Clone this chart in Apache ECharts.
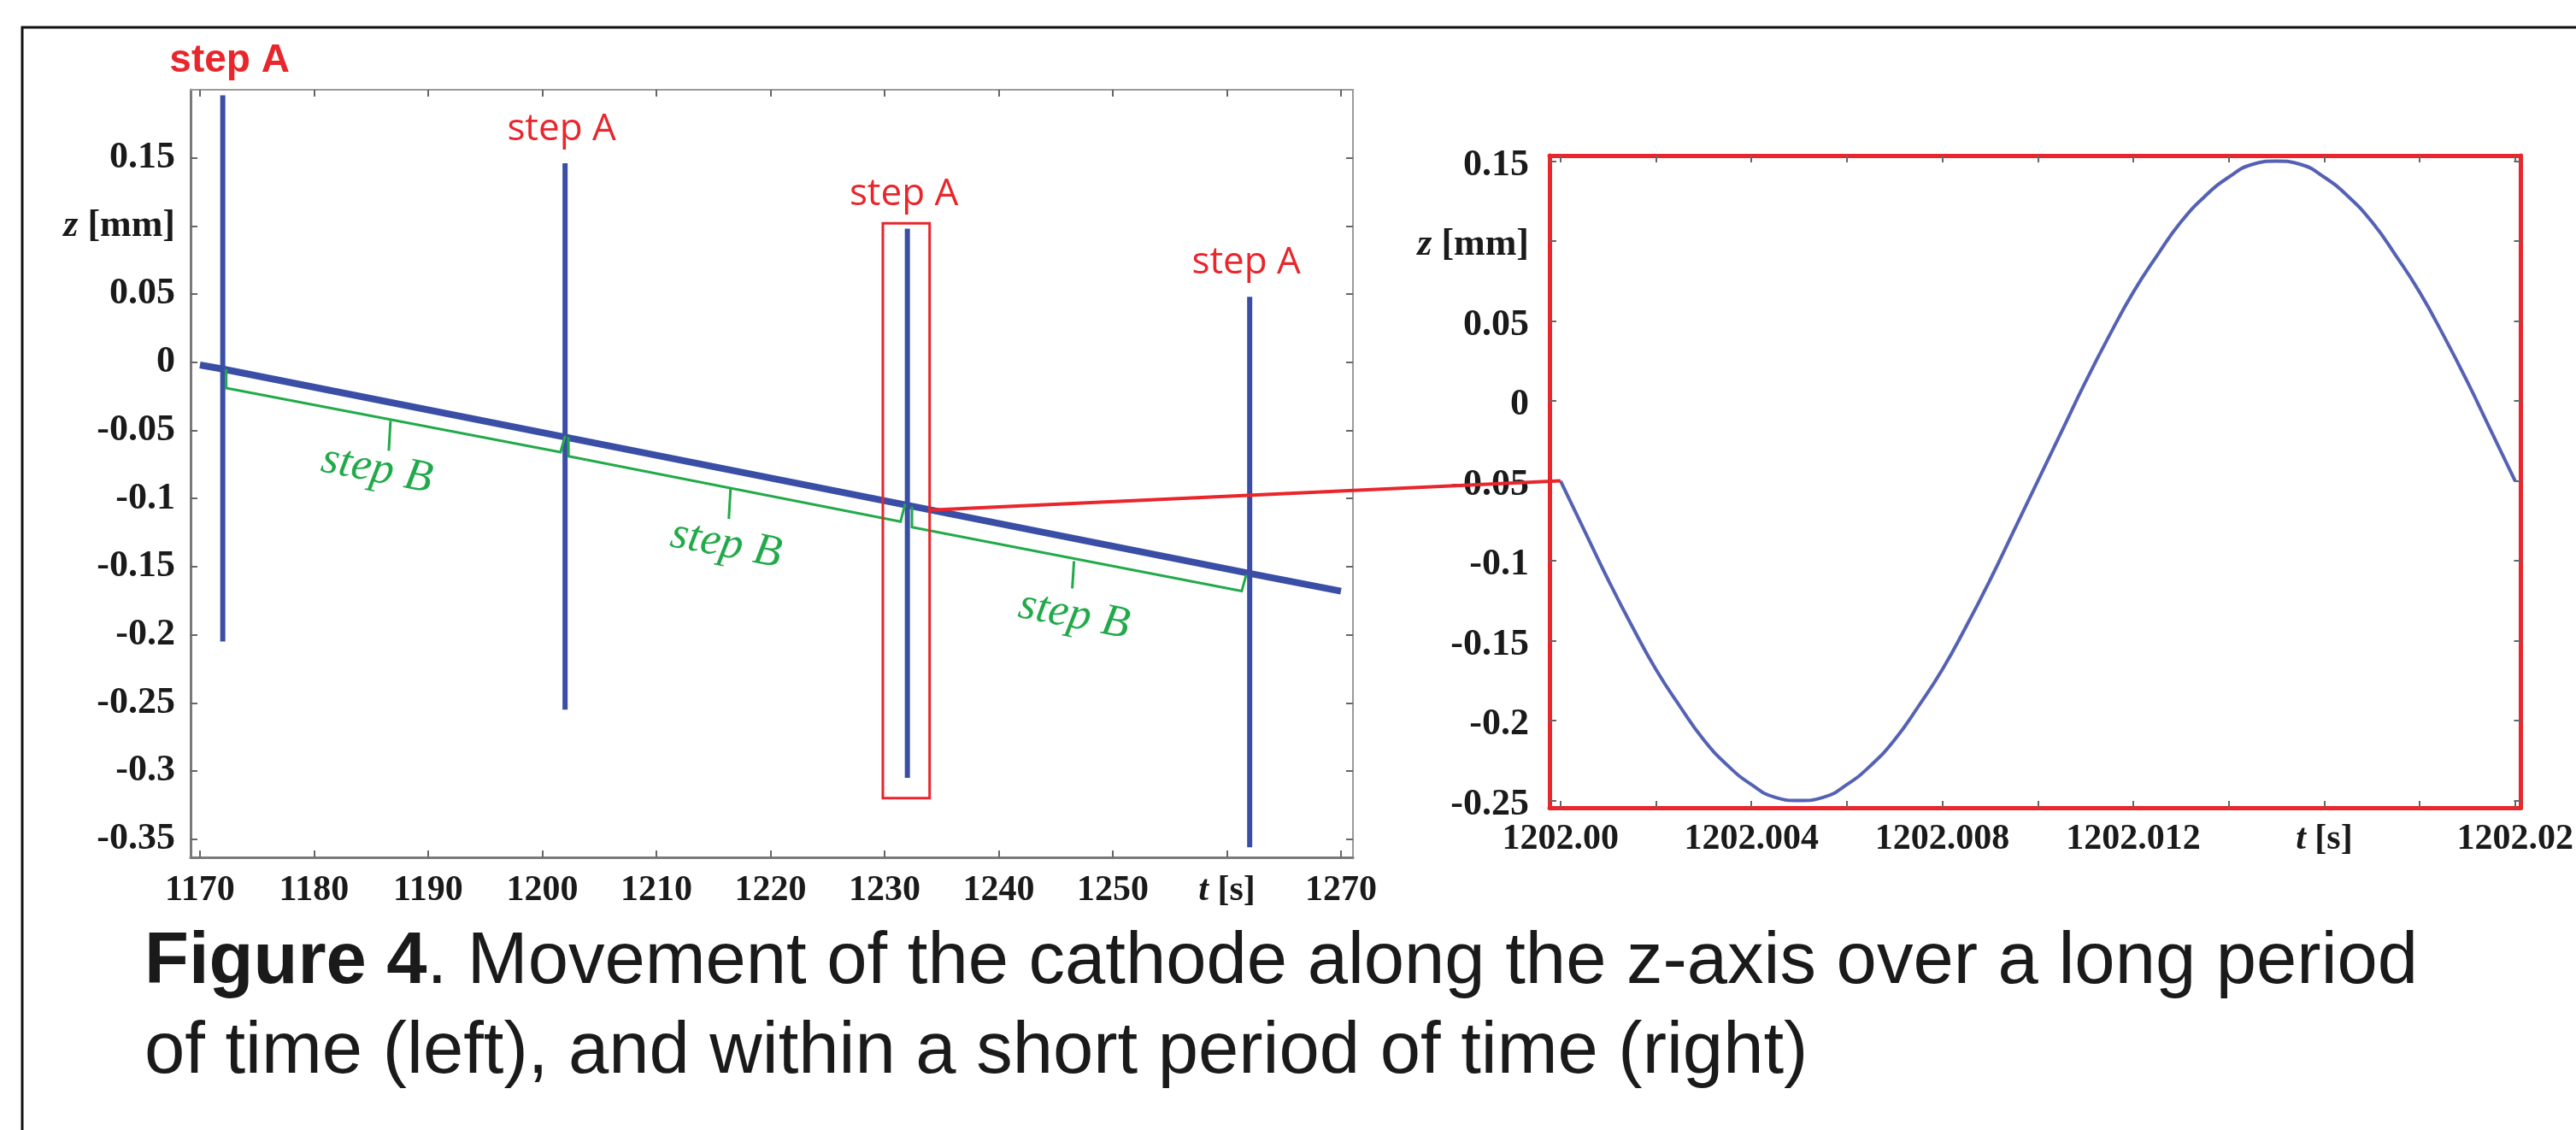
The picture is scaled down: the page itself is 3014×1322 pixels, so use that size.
<!DOCTYPE html>
<html><head><meta charset="utf-8">
<script src="https://cdn.jsdelivr.net/npm/echarts@6/dist/echarts.min.js"></script>
<style>html,body{margin:0;padding:0;background:#fff;}#c{width:3014px;height:1322px;}</style>
</head><body><div id="c"></div>
<script>
// ---------- Left panel: long period ----------
const longXTicks = [1170,1180,1190,1200,1210,1220,1230,1240,1250,1260,1270];
const longXLabels = ['1170','1180','1190','1200','1210','1220','1230','1240','1250','{i|t} [s]','1270'];
const longYTicks = [0.15,0.1,0.05,0,-0.05,-0.1,-0.15,-0.2,-0.25,-0.3,-0.35];
const longYLabels = ['0.15','{i|z} [mm]','0.05','0','-0.05','-0.1','-0.15','-0.2','-0.25','-0.3','-0.35'];
const trendT = [1170,1172,1202,1232,1262,1270];
const trendZ = [-0.002,-0.005,-0.055,-0.105,-0.155,-0.168];
const stepAT = [1172,1202,1232,1262];
const stepAHigh = [0.196,0.146,0.098,0.048];
const stepALow = [-0.205,-0.255,-0.305,-0.356];
const stepALabels = ['step A','step A','step A','step A'];
const stepBStartT = [1172.3,1202.3,1232.4];
const stepBStartTop = [-0.005,-0.055,-0.106];
const stepBStartLow = [-0.019,-0.069,-0.121];
const stepBEndT = [1201.6,1231.4,1261.3];
const stepBEndLow = [-0.066,-0.117,-0.168];
const stepBEndTop = [-0.054,-0.104,-0.156];
const stepBTickT = [1186.7,1216.5,1246.6];
const stepBTickTop = [-0.043,-0.093,-0.146];
const stepBTickLow = [-0.065,-0.115,-0.166];
const stepBLabelT = [1185.5,1216.1,1246.6];
const stepBLabelZ = [-0.079,-0.134,-0.186];
const stepBLabels = ['step B','step B','step B'];
const zoomBoxT = [1229.85,1233.95];
const zoomBoxZ = [-0.32,0.102];
const zoomLinkFrom = [1234.0,-0.1085];
// ---------- Right panel: short period ----------
const shortXTicks = [1202,1202.002,1202.004,1202.006,1202.008,1202.01,1202.012,1202.014,1202.016,1202.018,1202.02];
const shortXLabelValues = [1202,1202.004,1202.008,1202.012,1202.016,1202.02];
const shortXLabels = ['1202.00','1202.004','1202.008','1202.012','{i|t} [s]','1202.02'];
const shortYTicks = [0.15,0.1,0.05,0,-0.05,-0.1,-0.15,-0.2,-0.25];
const shortYLabels = ['0.15','{i|z} [mm]','0.05','0','-0.05','-0.1','-0.15','-0.2','-0.25'];
const shortT = [1202.0000,1202.0005,1202.0010,1202.0015,1202.0020,1202.0025,1202.0030,1202.0035,1202.0040,1202.0045,
                1202.0050,1202.0055,1202.0060,1202.0065,1202.0070,1202.0075,1202.0080,1202.0085,1202.0090,1202.0095,
                1202.0100,1202.0105,1202.0110,1202.0115,1202.0120,1202.0125,1202.0130,1202.0135,1202.0140,1202.0145,
                1202.0150,1202.0155,1202.0160,1202.0165,1202.0170,1202.0175,1202.0180,1202.0185,1202.0190,1202.0195,1202.0200];
const shortZ = [-0.050,-0.081,-0.112,-0.141,-0.168,-0.191,-0.212,-0.228,-0.240,-0.248,
                -0.250,-0.248,-0.240,-0.228,-0.212,-0.191,-0.168,-0.141,-0.112,-0.081,
                -0.050,-0.019,0.012,0.041,0.068,0.091,0.112,0.128,0.140,0.148,
                0.150,0.148,0.140,0.128,0.112,0.091,0.068,0.041,0.012,-0.019,-0.050];
const zoomLinkTo = [1202.0,-0.05];

const BLUE = '#3a4ea6', CURVE = '#5562b4', RED = '#e8262b', GREEN = '#22aa4a', INK = '#1a1a1a';
const SERIF = '"Liberation Serif","Times New Roman",serif';

function lookup(vals, labels){
  return function(v){
    for (let i=0;i<vals.length;i++) if (Math.abs(vals[i]-v) < 1e-7) return labels[i];
    return '';
  };
}
function labelBase(size){
  return {fontFamily: SERIF, fontWeight: 'bold', fontSize: size, color: INK,
    rich: {i: {fontFamily: SERIF, fontStyle: 'italic', fontWeight: 'bold', fontSize: size, color: INK}}};
}
function axisCommon(color, width, tickVals){
  return {
    axisLine: {show: true, onZero: false, lineStyle: {color: color, width: width}},
    axisTick: {show: true, inside: true, length: 8, customValues: tickVals, lineStyle: {color: '#666', width: 2}},
    splitLine: {show: false}
  };
}

const LX = [1169.18, 1271.05], LY = [-0.3634, 0.2];
const RX = [1201.99977, 1202.02012], RY = [-0.2545, 0.1535];

const chart = echarts.init(document.getElementById('c'), null, {renderer: 'canvas'});
const option = {
  animation: false,
  backgroundColor: '#fff',
  grid: [
    {left: 223, top: 105, width: 1360, height: 898, show: false},
    {left: 1813, top: 182, width: 1157, height: 763, show: false}
  ],
  xAxis: [
    Object.assign({type: 'value', gridIndex: 0, position: 'bottom', min: LX[0], max: LX[1],
      axisLabel: Object.assign({customValues: longXTicks, margin: 18, formatter: lookup(longXTicks, longXLabels)}, labelBase(42))},
      axisCommon('#7a7a7a', 3, longXTicks)),
    Object.assign({type: 'value', gridIndex: 0, position: 'top', min: LX[0], max: LX[1], axisLabel: {show: false}},
      axisCommon('#9a9a9a', 2, longXTicks)),
    Object.assign({type: 'value', gridIndex: 1, position: 'bottom', min: RX[0], max: RX[1],
      axisLabel: Object.assign({customValues: shortXLabelValues, margin: 16, formatter: lookup(shortXLabelValues, shortXLabels)}, labelBase(42))},
      axisCommon(RED, 5, shortXTicks)),
    Object.assign({type: 'value', gridIndex: 1, position: 'top', min: RX[0], max: RX[1], axisLabel: {show: false}},
      axisCommon(RED, 5, shortXTicks))
  ],
  yAxis: [
    Object.assign({type: 'value', gridIndex: 0, position: 'left', min: LY[0], max: LY[1],
      axisLabel: Object.assign({customValues: longYTicks, margin: 18, formatter: lookup(longYTicks, longYLabels)}, labelBase(44))},
      axisCommon('#7a7a7a', 3, longYTicks)),
    Object.assign({type: 'value', gridIndex: 0, position: 'right', min: LY[0], max: LY[1], axisLabel: {show: false}},
      axisCommon('#9a9a9a', 2, longYTicks)),
    Object.assign({type: 'value', gridIndex: 1, position: 'left', min: RY[0], max: RY[1],
      axisLabel: Object.assign({customValues: shortYTicks, margin: 24, padding: [10, 0, 0, 0], formatter: lookup(shortYTicks, shortYLabels)}, labelBase(44))},
      axisCommon(RED, 5, shortYTicks)),
    Object.assign({type: 'value', gridIndex: 1, position: 'right', min: RY[0], max: RY[1], axisLabel: {show: false}},
      axisCommon(RED, 5, shortYTicks))
  ],
  series: [
    { // step A oscillation envelopes
      type: 'custom', xAxisIndex: 0, yAxisIndex: 0, clip: false, z: 2,
      data: stepAT.map((t, i) => [t, stepALow[i], stepAHigh[i]]),
      renderItem: function(params, api){
        const lo = api.coord([api.value(0), api.value(1)]);
        const hi = api.coord([api.value(0), api.value(2)]);
        const first = params.dataIndex === 0;
        return {type: 'group', children: [
          {type: 'line', shape: {x1: lo[0], y1: lo[1], x2: hi[0], y2: hi[1]}, style: {stroke: BLUE, lineWidth: 6}},
          {type: 'text', x: hi[0] + (first ? 8 : -4), y: hi[1] - 40,
           style: {text: stepALabels[params.dataIndex], fill: RED,
             font: first ? 'bold 46px "Liberation Sans Narrow","Liberation Sans",sans-serif' : '44px "Open Sans",sans-serif',
             align: 'center', verticalAlign: 'middle'}}
        ]};
      }
    },
    { // slow drift
      type: 'line', xAxisIndex: 0, yAxisIndex: 0, z: 3, showSymbol: false, symbol: 'none',
      data: trendT.map((t, i) => [t, trendZ[i]]),
      lineStyle: {color: BLUE, width: 8}
    },
    { // step B braces
      type: 'lines', coordinateSystem: 'cartesian2d', xAxisIndex: 0, yAxisIndex: 0, polyline: true, z: 4,
      lineStyle: {color: GREEN, width: 3, opacity: 1},
      data: stepBStartT.map((s, i) => ({coords: [[s, stepBStartTop[i]], [s, stepBStartLow[i]], [stepBEndT[i], stepBEndLow[i]], [stepBEndT[i] + 0.4, stepBEndTop[i]]]}))
        .concat(stepBTickT.map((m, i) => ({coords: [[m, stepBTickTop[i]], [m - 0.15, stepBTickLow[i]]]})))
    },
    { // step B labels
      type: 'custom', xAxisIndex: 0, yAxisIndex: 0, clip: false, z: 4,
      data: stepBLabelT.map((t, i) => [t, stepBLabelZ[i]]),
      renderItem: function(params, api){
        const c = api.coord([api.value(0), api.value(1)]);
        return {type: 'text', x: c[0], y: c[1], rotation: -0.19,
          style: {text: stepBLabels[params.dataIndex], fill: GREEN, font: 'italic 53px "Liberation Serif",serif', align: 'center', verticalAlign: 'middle'}};
      }
    },
    { // zoom box
      type: 'custom', xAxisIndex: 0, yAxisIndex: 0, clip: false, z: 5,
      data: [[zoomBoxT[0], zoomBoxZ[0], zoomBoxT[1], zoomBoxZ[1]]],
      renderItem: function(params, api){
        const a = api.coord([api.value(0), api.value(3)]);
        const b = api.coord([api.value(2), api.value(1)]);
        return {type: 'rect', shape: {x: a[0], y: a[1], width: b[0] - a[0], height: b[1] - a[1]},
          style: {fill: 'none', stroke: RED, lineWidth: 3}};
      }
    },
    { // short period oscillation
      type: 'line', xAxisIndex: 2, yAxisIndex: 2, z: 3, smooth: true, showSymbol: false, symbol: 'none',
      data: shortT.map((t, i) => [t, shortZ[i]]),
      lineStyle: {color: CURVE, width: 4}
    }
  ]
};
chart.setOption(option);

const p1 = chart.convertToPixel({gridIndex: 0}, zoomLinkFrom);
const p2 = chart.convertToPixel({gridIndex: 1}, zoomLinkTo);
chart.setOption({
  graphic: [
    {type: 'polyline', shape: {points: [[26, 1330], [26, 32], [3020, 32]]}, style: {stroke: '#111', lineWidth: 3, fill: null}, silent: true},
    {type: 'line', shape: {x1: p1[0], y1: p1[1], x2: p2[0], y2: p2[1]}, style: {stroke: RED, lineWidth: 4}, z: 10},
    {type: 'text', x: 169, y: 1127, style: {text: '{b|Figure 4}. Movement of the cathode along the z-axis over a long period',
      fontSize: 85, fontFamily: '"Liberation Sans",Arial,sans-serif', fill: INK, verticalAlign: 'middle',
      rich: {b: {fontWeight: 'bold', fontSize: 85, fontFamily: '"Liberation Sans",Arial,sans-serif', fill: INK}}}},
    {type: 'text', x: 169, y: 1232, style: {text: 'of time (left), and within a short period of time (right)',
      fontSize: 85, fontFamily: '"Liberation Sans",Arial,sans-serif', fill: INK, verticalAlign: 'middle'}}
  ]
});
</script></body></html>
